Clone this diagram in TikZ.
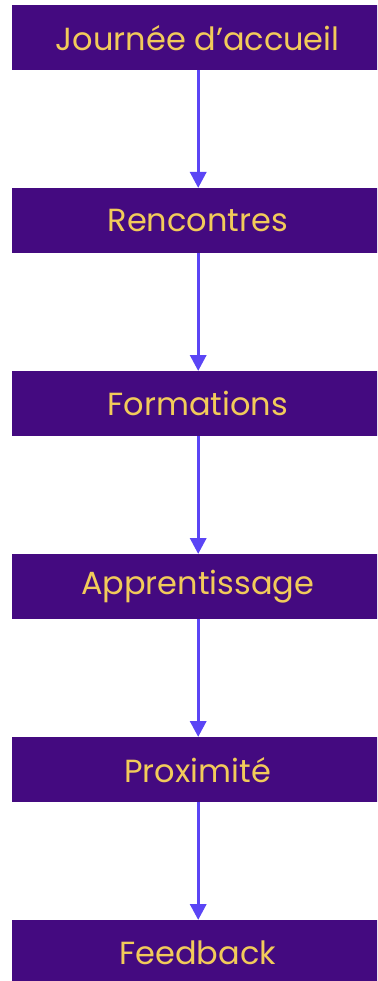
\documentclass[tikz,border=0pt]{standalone}
\usepackage{fontspec}
\setmainfont{Poppins}
\usetikzlibrary{arrows.meta}
\definecolor{boxfill}{HTML}{440A80}
\definecolor{txtcol}{HTML}{F2CB5A}
\definecolor{arrcol}{HTML}{5B45F5}
\begin{document}
\begin{tikzpicture}[x=1pt,y=-1pt,
  stepbox/.style={fill=boxfill,draw=none,minimum width=371pt,minimum height=65pt,inner sep=0pt,
    text=txtcol,font=\fontsize{32}{37}\selectfont,anchor=north west},
  conn/.style={draw=arrcol,line width=3.4pt,-{Triangle[length=16pt,width=16pt]}}]
\useasboundingbox (0,0) rectangle (377,981);
\begin{scope}
\clip (0,0) rectangle (377,981);
\node[stepbox] (a) at (12,5) {Journée d’accueil};
\node[stepbox] (b) at (12,188) {Rencontres};
\node[stepbox] (c) at (12,371) {Formations};
\node[stepbox] (d) at (12,554) {Apprentissage};
\node[stepbox] (e) at (12,737) {Proximité};
\node[stepbox] (f) at (12,920) {Feedback};
\end{scope}
\foreach \s/\t in {a/b,b/c,c/d,d/e,e/f}
  \draw[conn] ([xshift=0.5pt]\s.south) -- ([xshift=0.5pt]\t.north);
\end{tikzpicture}
\end{document}
